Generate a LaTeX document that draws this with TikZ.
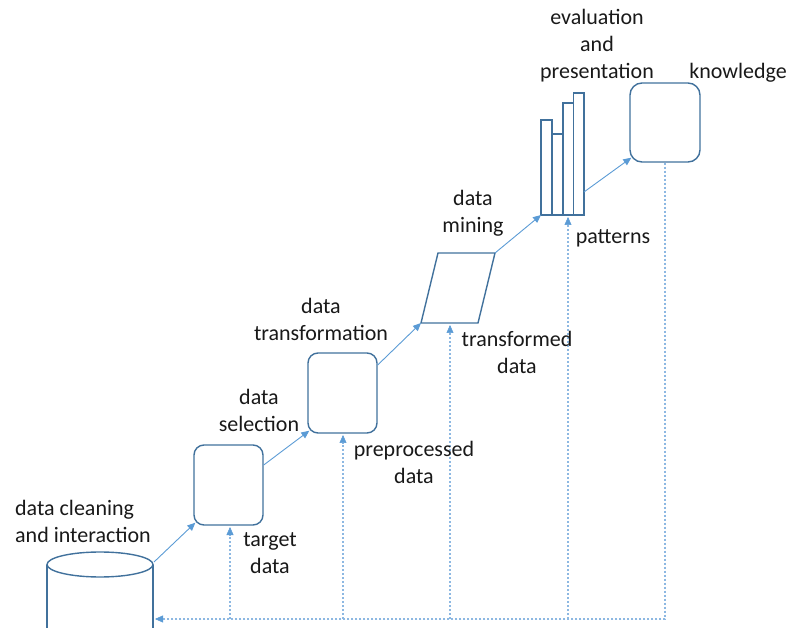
\documentclass[tikz,border=0pt]{standalone}
\usepackage{fontspec}
\setmainfont{Carlito}
\usetikzlibrary{arrows.meta}
\definecolor{shapeblue}{HTML}{41719C}
\definecolor{arrowblue}{HTML}{5B9BD5}
\definecolor{dotblue}{HTML}{8DB8E2}
\tikzset{
  lbl/.style={align=center, inner sep=0pt, font=\fontsize{22}{27}\selectfont, text=black!90},
  shp/.style={draw=shapeblue, line width=1.4pt},
  rbox/.style={shp, rounded corners=10pt, minimum width=69pt, minimum height=80pt, inner sep=0pt},
  flow/.style={draw=arrowblue, line width=0.9pt, -{Triangle[length=8pt,width=7pt]}},
  back/.style={draw=dotblue, line width=1.6pt, dash pattern=on 2pt off 2pt},
  backarr/.style={back, -{Triangle[length=8pt,width=7pt,color=arrowblue,line width=0.5pt]}}
}
\begin{document}
\begin{tikzpicture}[x=1pt,y=-1pt]
\useasboundingbox (0,0) rectangle (788,628);
\clip (0,0) rectangle (788,628);
% cylinder
\draw[shp] (47,564.5) -- (47,640) (153,564.5) -- (153,640);
\draw[shp] (100,564.5) ellipse [x radius=53, y radius=12.5];
\coordinate (cylout) at (154,562);
\coordinate (cylin) at (155,619);
% boxes
\node[rbox] (box1) at (228.5,485) {};
\node[rbox] (box2) at (342.5,393) {};
\node[rbox, rounded corners=12pt, minimum width=70pt, minimum height=79pt] (know) at (665,122.5) {};
% parallelogram
\coordinate (pbl) at (421,323);
\coordinate (pbr) at (478,323);
\coordinate (ptr) at (495,253);
\coordinate (ptl) at (438,253);
\draw[shp, line join=miter] (pbl) -- (pbr) -- (ptr) -- (ptl) -- cycle;
% bars
\draw[shp] (541,215) rectangle (552,120);
\draw[shp] (552,215) rectangle (563,134);
\draw[shp] (563,215) rectangle (573.5,103);
\draw[shp] (573.5,215) rectangle (584,93);
\coordinate (barbl) at (541,215);
\coordinate (barout) at (584,192);
% flow arrows
\draw[flow] (cylout) -- ([shift={(2pt,3pt)}]box1.south west);
\draw[flow] ([yshift=20pt]box1.east) -- ([shift={(2pt,3pt)}]box2.south west);
\draw[flow] ([yshift=28pt]box2.east) -- (pbl);
\draw[flow] (ptr) -- (barbl);
\draw[flow] (barout) -- ([shift={(2pt,5pt)}]know.south west);
% feedback lines
\coordinate (c1) at (230,619);
\coordinate (c2) at (343,619);
\coordinate (c3) at (450,619);
\coordinate (c4) at (568,619);
\coordinate (c5) at (665,619);
\draw[backarr] (c1) -- (230,527);
\draw[backarr] (c2) -- (343,435);
\draw[backarr] (c3) -- (450,325);
\draw[backarr] (c4) -- (568,217);
\draw[backarr] (know.south) -- (c5) -- (cylin);
% labels
\node[lbl, align=left, anchor=west] (l1) at (15,521) {data cleaning\\and interaction};
\node[lbl] (l2) at (270,553) {target\\data};
\node[lbl] (l3) at (259,410) {data\\selection};
\node[lbl] (l4) at (321,319) {data\\transformation};
\node[lbl] (l5) at (414,462) {preprocessed\\data};
\node[lbl] (l6) at (473,213) {data\\mining};
\node[lbl] (l7) at (517,352) {transformed\\data};
\node[lbl] (l8) at (597,46) {evaluation\\and\\presentation};
\node[lbl] (l9) at (738,73) {knowledge};
\node[lbl] (l10) at (613,238) {patterns};
\end{tikzpicture}
\end{document}
